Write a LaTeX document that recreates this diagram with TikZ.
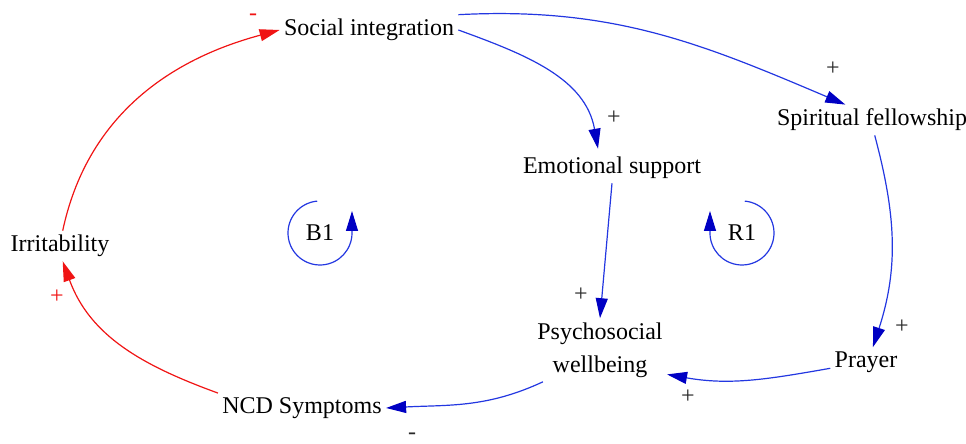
\documentclass[tikz,border=0pt]{standalone}
\usepackage{fontspec}
\setmainfont{Liberation Serif}
\usepackage{tikz}
\usetikzlibrary{arrows.meta}
\definecolor{linkblue}{RGB}{35,55,225}
\definecolor{tipblue}{RGB}{0,0,195}
\definecolor{linkred}{RGB}{240,20,20}
\definecolor{signgray}{RGB}{40,40,40}
\tikzset{
  varbox/.style={inner sep=2pt, align=center, font=\fontsize{12}{16.5}\selectfont},
  loopname/.style={inner sep=1pt, font=\fontsize{12}{14}\selectfont},
  sign/.style={inner sep=0pt, text=signgray, font=\fontsize{12}{14}\selectfont},
  redsign/.style={sign, text=linkred},
  posflow/.style={draw=linkblue, line width=0.6pt, -{Triangle[length=10pt, width=6pt, color=tipblue]}},
  redflow/.style={draw=linkred, line width=0.6pt, -{Triangle[length=10pt, width=6pt]}}
}

\begin{document}
\begin{tikzpicture}[x=0.5pt, y=0.5pt]
\useasboundingbox (0,0) rectangle (966,444);

\node[varbox] (si) at (369,414) {Social integration};
\node[varbox] (sf) at (872,324) {Spiritual fellowship};
\node[varbox] (es) at (612,276) {Emotional support};
\node[varbox] (irr) at (60,198) {Irritability};
\node[varbox] (pw) at (600,94) {Psychosocial\\wellbeing};
\node[varbox] (pr) at (866,82) {Prayer};
\node[varbox] (ncd) at (302,36) {NCD Symptoms};

\node[loopname] (b1) at (320,211) {B1};
\node[loopname] (r1) at (742,211) {R1};

\node[redsign] (s1) at (253,427) {-};
\node[sign] (s2) at (614,326) {+};
\node[sign] (s3) at (833,375) {+};
\node[sign] (s4) at (902,117) {+};
\node[sign] (s5) at (688,47) {+};
\node[sign] (s6) at (581,149) {+};
\node[sign] (s7) at (412,8) {-};
\node[redsign] (s8) at (57,147) {+};

\draw[posflow] (si.east) to[out=-20, in=100] ([xshift=-7pt, yshift=2pt]es.north);
\draw[posflow] (si.north east) to[out=3, in=157] (sf.150);
\draw[posflow] (sf.-80) to[out=-75, in=72] (pr.65);
\draw[posflow] (pr.190) to[out=190, in=-10] (pw.-20);
\draw[posflow] (es.south) -- (pw.north);
\draw[posflow] ([xshift=5pt]pw.south west) to[out=205, in=3] (ncd.east);
\draw[redflow] (ncd.north west) to[out=160, in=-70] (irr.-80);
\draw[redflow] (irr.80) to[out=78, in=195] (si.west);

\draw[posflow] ([shift={(95:16pt)}]b1.center) arc[start angle=95, end angle=360, radius=16pt] -- ++(0,11pt);
\draw[posflow] ([shift={(85:16pt)}]r1.center) arc[start angle=85, end angle=-180, radius=16pt] -- ++(0,11pt);
\end{tikzpicture}
\end{document}
